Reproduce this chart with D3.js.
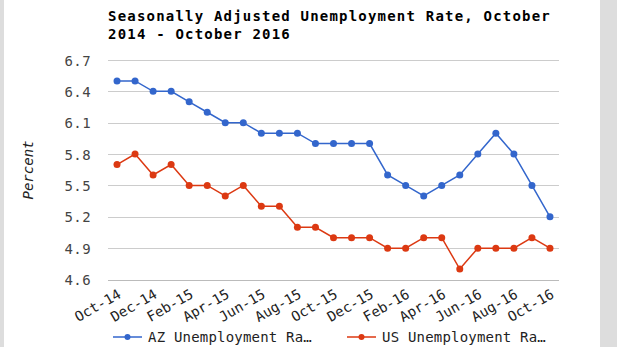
<!DOCTYPE html>
<html>
<head>
<meta charset="utf-8">
<script src="https://cdn.jsdelivr.net/npm/d3@7"></script>
<style>
  html, body { margin: 0; padding: 0; background: #dddddd; }
  svg { display: block; }
  text { font-family: "DejaVu Sans Mono", monospace; }
</style>
</head>
<body>
<svg id="chart" width="617" height="347"></svg>
<script>
// Monthly seasonally adjusted unemployment rates, Oct 2014 – Oct 2016
const months = ["Oct-14","Nov-14","Dec-14","Jan-15","Feb-15","Mar-15","Apr-15","May-15","Jun-15",
  "Jul-15","Aug-15","Sep-15","Oct-15","Nov-15","Dec-15","Jan-16","Feb-16","Mar-16","Apr-16",
  "May-16","Jun-16","Jul-16","Aug-16","Sep-16","Oct-16"];
const azRate = [6.5,6.5,6.4,6.4,6.3,6.2,6.1,6.1,6.0,6.0,6.0,5.9,5.9,5.9,5.9,5.6,5.5,5.4,5.5,5.6,5.8,6.0,5.8,5.5,5.2];
const usRate = [5.7,5.8,5.6,5.7,5.5,5.5,5.4,5.5,5.3,5.3,5.1,5.1,5.0,5.0,5.0,4.9,4.9,5.0,5.0,4.7,4.9,4.9,4.9,5.0,4.9];
const yTicks = [4.6,4.9,5.2,5.5,5.8,6.1,6.4,6.7];
const seriesNames = ["AZ Unemployment Ra…","US Unemployment Ra…"];
const seriesColors = ["#3366cc","#dc3912"];

const svg = d3.select("#chart");

// white card with grey margins at both sides
svg.append("rect").attr("x",4).attr("y",0).attr("width",596).attr("height",347).attr("fill","#ffffff");

const x = d3.scalePoint().domain(months).range([108,559]).padding(0.5);
const y = d3.scaleLinear().domain([4.6,6.7]).range([279.5,60]);

// title
const title = svg.append("text").attr("x",108).attr("font-weight","bold").attr("font-size",14)
  .attr("letter-spacing",1.2).attr("fill","#000");
title.append("tspan").attr("x",108).attr("y",20.5).text("Seasonally Adjusted Unemployment Rate, October");
title.append("tspan").attr("x",108).attr("y",39.3).text("2014 - October 2016");

// horizontal gridlines
svg.append("g").selectAll("line").data(yTicks).join("line")
  .attr("x1",108).attr("x2",559)
  .attr("y1",d=>Math.round(y(d))+0.5).attr("y2",d=>Math.round(y(d))+0.5)
  .attr("stroke",d=>d===4.6?"#bbbbbb":"#cccccc").attr("stroke-width",1);

// y axis labels
const yAxis = d3.axisLeft(y).tickValues(yTicks).tickFormat(d3.format(".1f")).tickSize(0).tickPadding(0);
const gy = svg.append("g").attr("transform","translate(91,0)").call(yAxis);
gy.select(".domain").remove();
gy.selectAll("text").attr("font-family","DejaVu Sans Mono, monospace").attr("font-size",14)
  .attr("letter-spacing",0.4).attr("fill","#444").attr("dy","0.36em");

// y axis title
svg.append("text").attr("transform","translate(33,170) rotate(-90)")
  .attr("text-anchor","middle").attr("font-size",14).attr("font-style","italic")
  .attr("fill","#222").text("Percent");

// x axis labels, rotated
const xAxis = d3.axisBottom(x).tickSize(0).tickPadding(0);
const gx = svg.append("g").attr("transform","translate(0,0)").call(xAxis);
gx.select(".domain").remove();
gx.selectAll(".tick").attr("transform",null);
gx.selectAll(".tick text")
  .attr("font-family","DejaVu Sans Mono, monospace").attr("font-size",14).attr("fill","#222")
  .attr("text-anchor","end").attr("dy",0).attr("y",null)
  .attr("transform",(d)=>`translate(${x(d)+5},297) rotate(-30)`)
  .style("display",(d,i)=>i%2===0?null:"none");

// series lines and markers
const series = [azRate, usRate];
const line = d3.line().x((d,i)=>x(months[i])).y(d=>y(d));
series.forEach((vals,k)=>{
  svg.append("path").datum(vals).attr("d",line).attr("fill","none")
    .attr("stroke",seriesColors[k]).attr("stroke-width",1.5);
  svg.append("g").selectAll("circle").data(vals).join("circle")
    .attr("cx",(d,i)=>x(months[i])).attr("cy",d=>y(d)).attr("r",3.5)
    .attr("fill",seriesColors[k]);
});

// legend
const legendX = [113,347];
seriesNames.forEach((name,k)=>{
  const g = svg.append("g").attr("transform",`translate(${legendX[k]},337)`);
  g.append("line").attr("x1",0).attr("x2",29).attr("y1",0).attr("y2",0)
    .attr("stroke",seriesColors[k]).attr("stroke-width",1.5);
  g.append("circle").attr("cx",14.5).attr("cy",0).attr("r",3).attr("fill",seriesColors[k]);
  g.append("text").attr("x",35).attr("y",0).attr("dy","0.36em").attr("font-size",14)
    .attr("letter-spacing",0.2).attr("fill","#222").text(name);
});
</script>
</body>
</html>
